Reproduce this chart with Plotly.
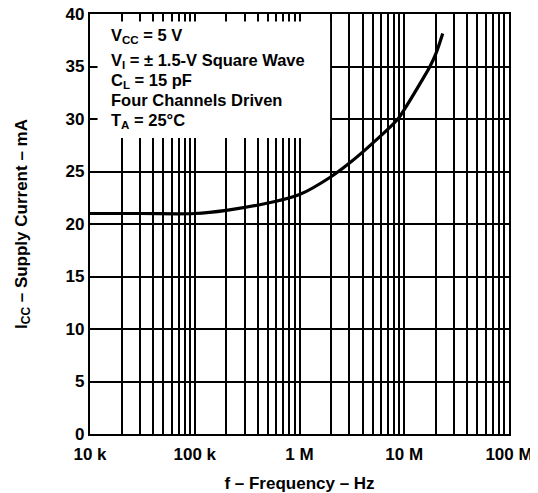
import plotly.graph_objects as go

# Data
freq_hz = [1e4, 3e4, 1e5, 2e5, 5e5, 1e6, 2e6, 3e6, 5e6, 8.7e6, 1e7, 1.5e7, 1.76e7, 2e7, 2.33e7]
icc_ma = [21.0, 21.0, 21.0, 21.3, 22.0, 22.8, 24.5, 25.8, 27.7, 30.0, 30.9, 33.8, 35.0, 36.2, 38.15]

x_tickvals = [1e4, 1e5, 1e6, 1e7, 1e8]
x_ticktext = ["10 k", "100 k", "1 M", "10 M", "100 M"]
y_tickvals = [0, 5, 10, 15, 20, 25, 30, 35, 40]

note_lines = [
    "V<sub>CC</sub> = 5 V",
    "V<sub>I</sub> = ± 1.5-V Square Wave",
    "C<sub>L</sub> = 15 pF",
    "Four Channels Driven",
    "T<sub>A</sub> = 25°C",
]
note_y = [0.947, 0.888, 0.840, 0.795, 0.745]

FONT = "Liberation Sans, Arial, sans-serif"

fig = go.Figure()
fig.add_trace(go.Scatter(
    x=freq_hz, y=icc_ma, mode="lines",
    line=dict(color="black", width=3.2, shape="spline", smoothing=1.0),
    showlegend=False, hoverinfo="skip",
))

fig.update_layout(
    width=530, height=485,
    margin=dict(l=82, r=29, t=6, b=59, autoexpand=False),
    paper_bgcolor="white", plot_bgcolor="white",
    font=dict(family=FONT, size=17, color="black"),
    xaxis=dict(
        type="log", range=[4, 8], automargin=False,
        tickvals=x_tickvals, ticktext=x_ticktext,
        showgrid=True, gridcolor="black", gridwidth=1.7,
        ticks="inside", ticklen=7, tickcolor="black", tickwidth=1.5,
        minor=dict(dtick="D1", showgrid=True, gridcolor="black", gridwidth=1.7,
                   ticks="inside", ticklen=7, tickcolor="black", tickwidth=1.5),
        showline=True, linecolor="black", linewidth=2.2, mirror="allticks",
        tickfont=dict(family=FONT, size=17, color="black", weight="bold"),
        ticklabelstandoff=3, ticklabeloverflow="allow",
        title=dict(text="<b>f – Frequency – Hz</b>", font=dict(family=FONT, size=17), standoff=15),
        zeroline=False,
    ),
    yaxis=dict(
        range=[0, 40], automargin=False, tickvals=y_tickvals,
        showgrid=True, gridcolor="black", gridwidth=1.7,
        ticks="inside", ticklen=7, tickcolor="black", tickwidth=1.5,
        showline=True, linecolor="black", linewidth=2.2, mirror="allticks",
        tickfont=dict(family=FONT, size=17, color="black", weight="bold"),
        ticklabeloverflow="allow",
        title=dict(text="<b>I<sub>CC</sub> – Supply Current – mA</b>", font=dict(family=FONT, size=17), standoff=34),
        zeroline=False,
    ),
)

# white panel behind the condition notes (inset so the inside ticks stay visible)
fig.add_shape(
    type="rect", xref="x domain", yref="y domain",
    x0=0.018, x1=0.573, y0=0.705, y1=0.982,
    fillcolor="white", line=dict(width=0), layer="above",
)

for txt, yy in zip(note_lines, note_y):
    fig.add_annotation(
        xref="paper", yref="paper", x=0.046, y=yy,
        xanchor="left", yanchor="middle", showarrow=False,
        text="<b>" + txt + "</b>",
        font=dict(family=FONT, size=16.5, color="black"),
    )

fig.write_html("out.html")
